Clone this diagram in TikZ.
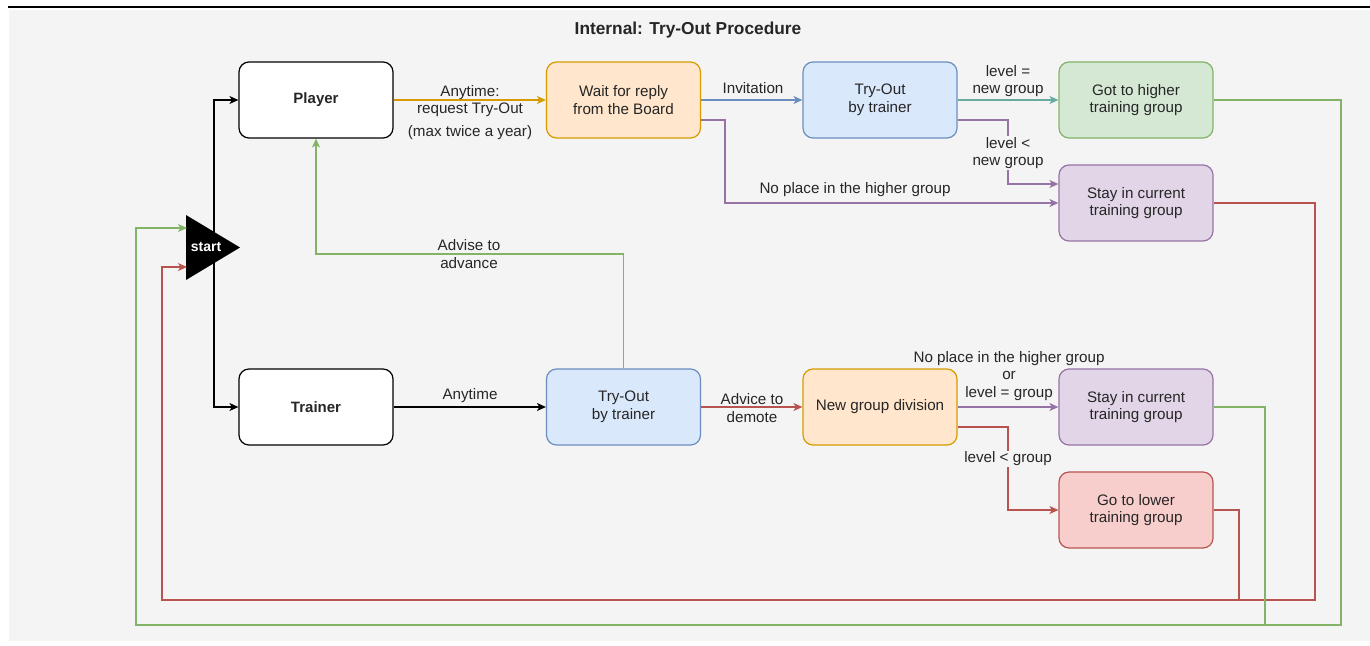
\documentclass[tikz,border=0pt]{standalone}
\usepackage{fontspec}
\setmainfont{Liberation Sans}
\usetikzlibrary{arrows.meta}
\definecolor{bg}{HTML}{F4F4F4}
\definecolor{txt}{HTML}{262626}
\definecolor{orgF}{HTML}{FFE6CC}\definecolor{orgD}{HTML}{D79B00}
\definecolor{bluF}{HTML}{DAE8FC}\definecolor{bluD}{HTML}{6C8EBF}
\definecolor{grnF}{HTML}{D5E8D4}\definecolor{grnD}{HTML}{82B366}
\definecolor{purF}{HTML}{E1D5E7}\definecolor{purD}{HTML}{9673A6}
\definecolor{redF}{HTML}{F8CECC}\definecolor{redD}{HTML}{B85450}
\definecolor{tealD}{HTML}{67AB9F}
\begin{document}
\begin{tikzpicture}[x=1pt,y=-1pt,
  font=\fontsize{15.2}{17.8}\selectfont,
  box/.style={draw, rounded corners=10pt, minimum width=154pt, minimum height=76pt,
    align=center, line width=1.2pt, text=txt, inner sep=2pt},
  wbox/.style={box, fill=white, draw=black, font=\fontsize{15}{17.8}\selectfont\bfseries},
  obox/.style={box, fill=orgF, draw=orgD},
  bbox/.style={box, fill=bluF, draw=bluD},
  gbox/.style={box, fill=grnF, draw=grnD},
  pbox/.style={box, fill=purF, draw=purD},
  rbox/.style={box, fill=redF, draw=redD},
  conn/.style={line width=1.2pt, -{Stealth[length=9pt,width=8pt,inset=2.5pt]}},
  line/.style={line width=1.2pt},
  lbl/.style={text=txt, align=center, inner sep=1pt},
  lblf/.style={lbl, fill=bg}]
\useasboundingbox (0,0) rectangle (1370,645);
\fill[white] (0,0) rectangle (1370,645);
\fill[bg] (9,10) rectangle (1370,641);
\draw[line width=2pt] (8,7) -- (1370,7);

\node[text=txt, font=\fontsize{17.3}{20}\selectfont\bfseries] (title) at (688,30) {Internal: Try-Out Procedure};

% nodes
\node[wbox] (player) at (316,100) {Player};
\node[wbox] (trainer) at (316,407) {Trainer};
\node[obox] (wait) at (623.5,100) {Wait for reply\\from the Board};
\node[bbox] (tryA) at (880,100) {Try-Out\\by trainer};
\node[gbox] (got) at (1136,100) {Got to higher\\training group};
\node[pbox] (stayA) at (1136,203) {Stay in current\\training group};
\node[bbox] (tryB) at (623.5,407) {Try-Out\\by trainer};
\node[obox] (newG) at (880,407) {New group division};
\node[pbox] (stayB) at (1136,407) {Stay in current\\training group};
\node[rbox] (lower) at (1136,510) {Go to lower\\training group};

% start
\coordinate (split) at (214,247.5);
\coordinate (inG) at (187,228);
\coordinate (inR) at (187,267);
\draw[conn, black] (split) |- (player.west);
\draw[conn, black] (split) |- (trainer.west);
\fill[black] (186,215) -- (240,247.5) -- (186,280) -- cycle;
\node[text=white, font=\fontsize{14}{16}\selectfont\bfseries, inner sep=0pt] (start) at (206,247) {start};

% top row
\draw[conn, orgD] (player.east) -- (wait.west);
\draw[conn, bluD] (wait.east) -- (tryA.west);
\draw[conn, tealD] (tryA.east) -- (got.west);
\draw[conn, purD] ([yshift=-20pt]tryA.east) -| (1008,184) -- ([yshift=19pt]stayA.west);
\draw[conn, purD] ([yshift=-20pt]wait.east) -| (725,203) -- (stayA.west);

% bottom row
\draw[conn, black] (trainer.east) -- (tryB.west);
\draw[conn, grnD] (tryB.north) -- (623.5,254) -| (player.south);
\draw[conn, redD] (tryB.east) -- (newG.west);
\draw[conn, purD] (newG.east) -- (stayB.west);
\draw[conn, redD] ([yshift=-20pt]newG.east) -| (1008,510) -- (lower.west);

% feedback loops
\draw[conn, grnD] (got.east) -| (1341,625) -| (136,228) -- (inG);
\draw[conn, redD] (stayA.east) -| (1315,600) -| (162,267) -- (inR);
\draw[line, grnD] (stayB.east) -| (1265,625);
\draw[line, redD] (lower.east) -| (1239,600);

% labels
\node[lbl] (l1) at (470,101) {Anytime:\\request Try-Out};
\node[lbl] (l2) at (470,133) {(max twice a year)};
\node[lbl] (l3) at (753,88) {Invitation};
\node[lbl] (l4) at (1008,81) {level =\\new group};
\node[lblf] (l5) at (1008,153) {level <\\new group};
\node[lbl] (l6) at (855,190) {No place in the higher group};
\node[lbl] (l7) at (469,254) {Advise to\\advance};
\node[lbl] (l8) at (470,396) {Anytime};
\node[lbl] (l9) at (752,408) {Advice to\\demote};
\node[lbl] (l10) at (1009,376) {No place in the higher group\\or\\level = group};
\node[lblf] (l11) at (1008,459) {level < group};
\end{tikzpicture}
\end{document}
